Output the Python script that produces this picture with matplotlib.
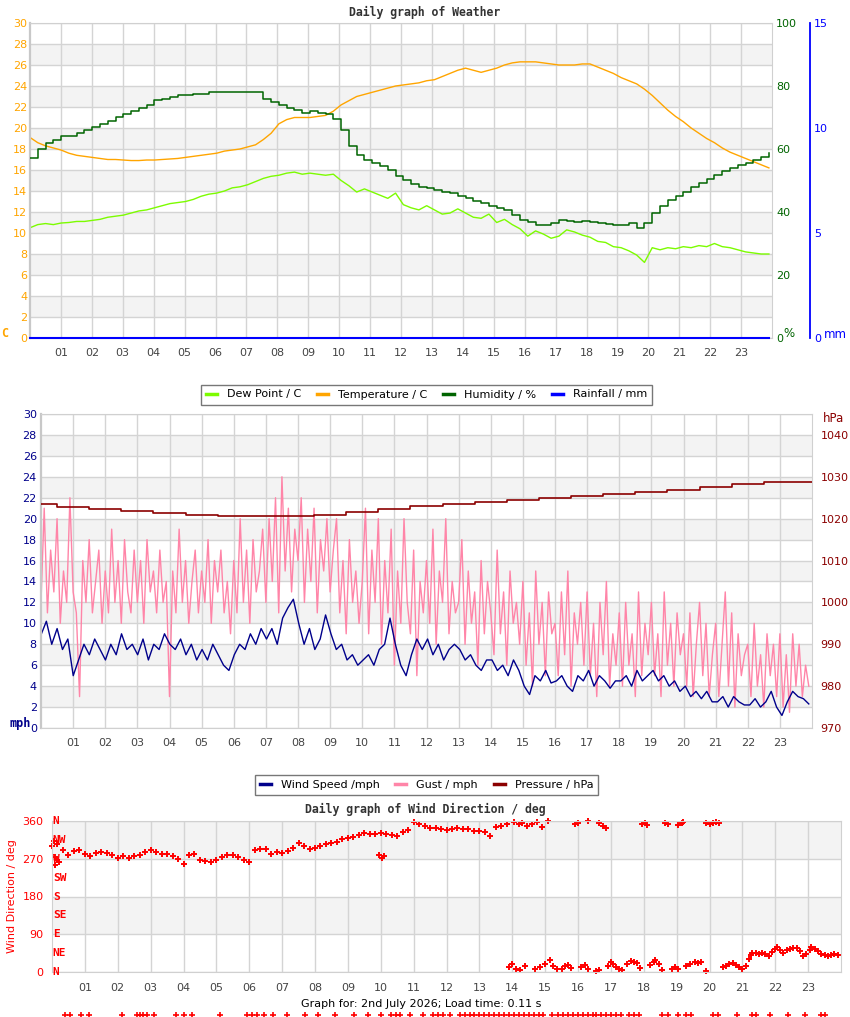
import numpy as np
import matplotlib
matplotlib.use("Agg")
import matplotlib.pyplot as plt
from matplotlib.lines import Line2D

# ---- chart 1: weather (4 samples per hour) ----
temperature = [19.1, 18.6, 18.3, 18.1, 17.9, 17.6, 17.4, 17.3, 17.2, 17.1, 17.0, 17.0,
               16.95, 16.9, 16.9, 16.95, 16.95, 17.0, 17.05, 17.1, 17.2, 17.3, 17.4, 17.5,
               17.6, 17.8, 17.9, 18.0, 18.2, 18.4, 18.9, 19.5, 20.4, 20.8, 21.0, 21.0,
               21.0, 21.1, 21.2, 21.6, 22.2, 22.6, 23.0, 23.2, 23.4, 23.6, 23.8, 24.0,
               24.1, 24.2, 24.3, 24.5, 24.6, 24.9, 25.2, 25.5, 25.7, 25.5, 25.3, 25.5,
               25.7, 26.0, 26.2, 26.3, 26.3, 26.3, 26.2, 26.1, 26.0, 26.0, 26.0, 26.1,
               26.1, 25.8, 25.5, 25.2, 24.8, 24.5, 24.2, 23.7, 23.1, 22.4, 21.7, 21.1,
               20.6, 20.0, 19.5, 19.0, 18.6, 18.1, 17.7, 17.4, 17.1, 16.8, 16.5, 16.2]
dew_point = [10.5, 10.8, 10.9, 10.8, 10.95, 11.0, 11.1, 11.1, 11.2, 11.3, 11.5, 11.6,
             11.7, 11.9, 12.1, 12.2, 12.4, 12.6, 12.8, 12.9, 13.0, 13.2, 13.5, 13.7,
             13.8, 14.0, 14.3, 14.4, 14.6, 14.9, 15.2, 15.4, 15.5, 15.7, 15.8, 15.6,
             15.7, 15.6, 15.5, 15.6, 15.0, 14.5, 13.9, 14.2, 13.9, 13.6, 13.3, 13.8,
             12.7, 12.4, 12.2, 12.6, 12.2, 11.8, 11.9, 12.3, 11.9, 11.5, 11.4, 11.8,
             11.0, 11.3, 10.8, 10.4, 9.7, 10.2, 9.9, 9.5, 9.7, 10.3, 10.1, 9.8,
             9.6, 9.2, 9.1, 8.7, 8.6, 8.3, 7.9, 7.2, 8.6, 8.4, 8.6, 8.5,
             8.7, 8.6, 8.8, 8.7, 9.0, 8.7, 8.6, 8.4, 8.2, 8.1, 8.0, 8.0]
humidity = [57, 60, 62, 63, 64, 64, 65, 66, 67, 68, 69, 70,
            71, 72, 73, 74, 75.5, 76, 76.5, 77, 77, 77.5, 77.5, 78,
            78, 78, 78, 78, 78, 78, 76, 75, 74, 73, 72.4, 71.5,
            72, 71.5, 71, 69.5, 66, 61, 58, 56.5, 55.5, 54.5, 53.3, 51.5,
            50, 49, 48, 47.5, 47, 46.5, 46, 45, 44.4, 43.5, 42.8, 42,
            41.3, 40.5, 39, 37.5, 36.8, 36, 35.9, 36.5, 37.5, 37, 36.8, 37,
            36.8, 36.5, 36.2, 36, 35.9, 36.5, 34.9, 36.5, 39.7, 42, 43.8, 45,
            46.3, 48, 49.2, 50.5, 51.7, 53, 54, 55, 55.6, 56.5, 57.5, 58.7]
rainfall = [0.0] * 96

# ---- chart 2: wind (gust 10/hour, speed 6/hour, pressure hourly) ----
gust = [12, 21, 11, 17, 13, 20, 10, 15, 12, 22,
        13, 11, 3, 16, 12, 18, 11, 14, 17, 10,
        15, 11, 19, 12, 16, 10, 18, 13, 11, 17,
        12, 16, 10, 18, 13, 15, 11, 17, 12, 14,
        3, 15, 11, 19, 12, 16, 10, 14, 17, 11,
        15, 12, 18, 10, 16, 13, 17, 11, 14, 9,
        16, 11, 20, 12, 17, 10, 18, 13, 15, 19,
        12, 20, 14, 22, 11, 24, 15, 21, 13, 19,
        16, 22, 12, 19, 14, 21, 11, 18, 15, 20,
        13, 17, 20, 11, 16, 9, 18, 12, 15, 10,
        14, 21, 9, 17, 12, 20, 8, 16, 11, 19,
        6, 15, 10, 20, 12, 9, 17, 5, 14, 11,
        16, 10, 19, 8, 15, 12, 20, 9, 14, 11,
        12, 18, 8, 15, 10, 13, 6, 16, 9, 14,
        11, 7, 17, 9, 13, 6, 15, 10, 12, 8,
        14, 6, 11, 4, 15, 8, 12, 5, 13, 9,
        10, 5, 13, 7, 15, 4, 11, 8, 12, 6,
        13, 5, 10, 3, 12, 7, 14, 4, 9, 6,
        11, 4, 12, 6, 9, 3, 13, 5, 10, 7,
        12, 5, 9, 3, 13, 6, 10, 4, 11, 7,
        9, 4, 11, 3, 8, 12, 5, 10, 3, 7,
        10, 3, 8, 13, 4, 11, 2, 9, 5, 7,
        8, 3, 10, 4, 7, 2, 9, 5, 8, 3,
        9, 2, 7, 1.5, 9, 4, 8, 3, 6, 4]
wind_speed = [8.9, 10.2, 8.0, 9.5, 7.5, 8.5, 5.0, 6.5, 8.0, 7.0, 8.5, 7.5,
              6.5, 8.0, 7.0, 9.0, 7.5, 8.0, 7.0, 8.5, 6.5, 8.0, 7.5, 9.0,
              8.0, 7.5, 8.5, 7.0, 8.0, 6.5, 7.5, 6.5, 8.0, 7.0, 6.0, 5.5,
              7.0, 8.0, 7.5, 9.0, 8.0, 9.5, 8.5, 9.5, 8.0, 10.5, 11.5, 12.3,
              10.0, 8.0, 9.5, 7.5, 8.5, 10.8, 9.0, 7.5, 8.0, 6.5, 7.0, 6.0,
              6.5, 7.0, 6.0, 7.5, 8.0, 10.5, 8.0, 6.0, 5.0, 7.0, 8.5, 7.5,
              8.5, 7.0, 8.0, 6.5, 7.5, 8.0, 7.5, 6.5, 7.0, 6.0, 5.5, 6.5,
              6.5, 5.5, 6.0, 5.0, 6.5, 5.5, 4.0, 3.2, 5.0, 4.5, 5.5, 4.3,
              4.5, 5.0, 4.0, 3.5, 5.0, 4.5, 5.5, 4.0, 5.0, 4.5, 3.8, 4.5,
              4.5, 5.0, 4.0, 5.5, 4.5, 5.0, 5.5, 4.5, 5.0, 4.0, 4.5, 3.5,
              4.0, 3.0, 3.5, 2.8, 3.5, 2.5, 2.5, 3.0, 2.0, 3.0, 2.5, 2.2,
              2.2, 2.8, 2.0, 2.5, 3.5, 2.0, 1.2, 2.5, 3.5, 3.0, 2.8, 2.3]
pressure = [1023.5, 1022.9, 1022.3, 1021.8, 1021.3, 1020.8, 1020.7, 1020.7, 1020.7,
            1020.9, 1021.6, 1022.3, 1023.0, 1023.5, 1024.0, 1024.5, 1025.0, 1025.3,
            1025.8, 1026.3, 1026.8, 1027.5, 1028.2, 1028.8, 1028.8]

# ---- chart 3: wind direction ----
# main trace 00:00-14:00, every 10 minutes
wd_trace = [300, 268, 292, 280, 288, 290, 282, 276, 283, 287, 283, 279,
            271, 277, 272, 276, 280, 287, 291, 285, 282, 281, 277, 270,
            258, 280, 282, 268, 265, 262, 266, 273, 278, 278, 275, 268,
            262, 290, 294, 293, 282, 287, 284, 288, 296, 307, 300, 294,
            296, 300, 305, 307, 311, 316, 320, 322, 327, 331, 328, 330,
            331, 328, 326, 324, 334, 338, 358, 352, 348, 344, 343, 341,
            339, 341, 343, 342, 340, 337, 336, 333, 324, 346, 349, 352]
wd_extra_time = [0.05, 0.08, 0.1, 0.15, 0.22, 9.95, 10.05, 10.1,
                 13.9, 14.0, 14.05, 14.1, 14.2, 14.25, 14.3, 14.4, 14.45, 14.6, 14.7,
                 14.75, 14.85, 14.9, 15.0, 15.1, 15.15, 15.25, 15.35, 15.5, 15.6, 15.7,
                 15.8, 15.9, 16.0, 16.1, 16.2, 16.3, 16.3, 16.55, 16.65, 16.65, 16.75,
                 16.85, 16.9, 17.0, 17.05, 17.15, 17.25, 17.35, 17.5, 17.6, 17.7, 17.8,
                 17.9, 17.95, 18.05, 18.1, 18.2, 18.3, 18.35, 18.45, 18.55, 18.65,
                 18.75, 18.85, 18.95, 19.05, 19.05, 19.15, 19.2, 19.3, 19.4, 19.55,
                 19.65, 19.75, 19.9, 19.9, 20.0, 20.1, 20.2, 20.3, 20.4, 20.5, 20.6,
                 20.7, 20.8, 20.9, 21.0, 21.1, 21.2, 21.25, 21.3, 21.4, 21.5, 21.6,
                 21.7, 21.8, 21.9, 22.0, 22.05, 22.15, 22.25, 22.35, 22.45, 22.55,
                 22.65, 22.75, 22.85, 22.95, 23.05, 23.1, 23.2, 23.3, 23.4, 23.5,
                 23.6, 23.7, 23.8, 23.9]
wd_extra_dir = [312, 275, 256, 306, 262, 279, 272, 276,
                12, 18, 358, 8, 352, 5, 356, 14, 348, 353, 6,
                357, 12, 345, 20, 359, 28, 15, 8, 6, 14, 17,
                9, 352, 356, 12, 17, 8, 360, 3, 5, 355, 348,
                343, 15, 24, 20, 12, 6, 4, 18, 27, 24, 22,
                9, 352, 356, 350, 16, 24, 28, 18, 5, 355,
                352, 6, 12, 8, 351, 355, 357, 15, 20, 24,
                22, 24, 3, 356, 352, 355, 357, 355, 12, 15, 18,
                21, 16, 12, 8, 14, 30, 40, 46, 45, 44, 46,
                42, 38, 48, 55, 60, 52, 46, 52, 55, 57,
                58, 50, 38, 44, 52, 60, 55, 50, 42, 40,
                38, 40, 42, 40]
calm_hours = [0.4, 0.55, 0.88, 1.13, 2.13, 2.59, 2.68, 2.77, 2.89, 3.1, 3.77, 4.02,
              4.26, 5.11, 5.93, 6.09, 6.24, 6.45, 6.73, 7.15, 7.7, 8.1, 8.6, 9.2,
              9.6, 10.0, 10.3, 10.45, 10.6, 10.9, 11.3, 11.6, 11.75, 11.9, 12.1,
              12.4, 12.55, 12.7, 12.85, 13.0, 13.15, 13.3, 13.45, 13.6, 13.75, 13.9,
              14.05, 14.2, 14.35, 14.5, 14.65, 14.8, 14.95, 15.2, 15.4, 15.55, 15.7,
              15.85, 16.0, 16.15, 16.3, 16.45, 16.55, 16.7, 16.85, 17.0, 17.15, 17.3,
              17.55, 17.7, 17.85, 18.55, 18.75, 19.05, 19.3, 19.45, 20.1, 20.25,
              20.85, 21.3, 21.4, 21.85, 22.4, 22.9, 23.4, 23.5]
compass = ["N", "NE", "E", "SE", "S", "SW", "W", "NW", "N"]
hour_labels = ["%02d" % h for h in range(1, 24)]

GRID = "#d4d4d4"
BAND = "#f3f3f3"
MONO = "DejaVu Sans Mono"

plt.rcParams["font.family"] = "DejaVu Sans"
plt.rcParams["font.size"] = 8

fig = plt.figure(figsize=(8.5, 10.17), dpi=100)


def base_axes(rect, ymax, step, band_step, left_color, pad_left):
    ax = fig.add_axes(rect)
    ax.set_xlim(0, 24)
    ax.set_ylim(0, ymax)
    for lo in np.arange(band_step, ymax, 2 * band_step):
        ax.axhspan(lo, lo + band_step, color=BAND, zorder=0, lw=0)
    ax.set_xticks(range(1, 24))
    ax.set_xticklabels(hour_labels)
    ax.set_yticks(np.arange(0, ymax + 0.1, step))
    ax.grid(True, color=GRID, lw=1)
    ax.set_axisbelow(True)
    ax.tick_params(axis="x", length=0, pad=7, labelcolor="#444444", labelsize=8)
    ax.tick_params(axis="y", length=0, pad=pad_left, labelcolor=left_color, labelsize=8)
    for s in ax.spines.values():
        s.set_color("#d0d0d0")
    ax.spines["left"].set_linewidth(1.6)
    ax.spines["left"].set_color("#c8c8c8")
    return ax


# ---------------- chart 1 ----------------
t4 = np.linspace(0, 23.9, 96)
ax1 = base_axes([30 / 850, 679 / 1017, 742 / 850, 315 / 1017], 30, 2, 2, "#FFA500", 2)
ax1.plot(t4, temperature, color="#FFA500", lw=1)
ax1.plot(t4, dew_point, color="#7CFC00", lw=1)

ax1h = ax1.twinx()
ax1h.set_ylim(0, 100)
ax1h.set_yticks(range(0, 101, 20))
ax1h.tick_params(axis="y", length=0, pad=3, labelcolor="#006400", labelsize=8)
for s in ax1h.spines.values():
    s.set_visible(False)
ax1h.plot(t4, humidity, color="#006400", lw=1.1, drawstyle="steps-post")

ax1r = ax1.twinx()
ax1r.set_ylim(0, 15)
ax1r.set_yticks([0, 5, 10, 15])
ax1r.spines["right"].set_position(("outward", 27.4))
for name, s in ax1r.spines.items():
    s.set_visible(name == "right")
ax1r.spines["right"].set_color("#0000FF")
ax1r.spines["right"].set_linewidth(1.3)
ax1r.tick_params(axis="y", length=0, pad=3, labelcolor="#0000FF", labelsize=8)
ax1r.plot(t4, rainfall, color="#0000FF", lw=1.5, clip_on=False)

fig.text(0.5, 1005 / 1017, "Daily graph of Weather", ha="center", va="center",
         family=MONO, weight="bold", size=8.3, color="#333333")
fig.text(5 / 850, 1 - 333 / 1017, "C", ha="center", va="center", family=MONO,
         weight="bold", size=8.5, color="#FFA500")
fig.text(789 / 850, 1 - 333 / 1017, "%", ha="center", va="center", size=8.5, color="#006400")
fig.text(835 / 850, 1 - 334 / 1017, "mm", ha="center", va="center", size=8.5, color="#0000FF")

# ---------------- chart 2 ----------------
ax2 = base_axes([41 / 850, 289 / 1017, 771 / 850, 314 / 1017], 30, 2, 2, "#00008B", 3)
tg = np.linspace(0, 23.9, len(gust))
tw = np.linspace(0, 23.9, len(wind_speed))
ax2.plot(tg, gust, color="#FF85A8", lw=1.0)
ax2.plot(tw, wind_speed, color="#00008B", lw=1)
ax2p = ax2.twinx()
ax2p.set_ylim(970, 1045)
ax2p.set_yticks(range(970, 1041, 10))
ax2p.tick_params(axis="y", length=0, pad=6, labelcolor="#8B0000", labelsize=8)
for s in ax2p.spines.values():
    s.set_visible(False)
ax2p.plot(np.linspace(0, 24, len(pressure)), pressure, color="#8B0000", lw=1.2,
          drawstyle="steps-mid")

fig.text(0.5, 1 - 401 / 1017, "Daily graph of Wind Speed", ha="center", va="baseline",
         family=MONO, weight="bold", size=8.3, color="#333333", zorder=2)
fig.text(833 / 850, 1 - 418 / 1017, "hPa", ha="center", va="center", size=8.5,
         color="#8B0000")
fig.text(20 / 850, 1 - 723 / 1017, "mph", ha="center", va="center", family=MONO,
         weight="bold", size=8.5, color="#00008B")

# ---------------- chart 3 ----------------
ax3 = fig.add_axes([52 / 850, 45 / 1017, 789 / 850, 151 / 1017])
ax3.set_xlim(0, 24)
ax3.set_ylim(0, 360)
ax3.axhspan(270, 360, color=BAND, zorder=0, lw=0)
ax3.axhspan(90, 180, color=BAND, zorder=0, lw=0)
ax3.set_xticks(range(1, 24))
ax3.set_xticklabels(hour_labels)
ax3.set_yticks([0, 90, 180, 270, 360])
ax3.grid(True, color=GRID, lw=1)
ax3.set_axisbelow(True)
ax3.tick_params(axis="x", length=0, pad=8, labelcolor="#444444", labelsize=8)
ax3.tick_params(axis="y", length=0, pad=6, labelcolor="#FF0000", labelsize=8)
for s in ax3.spines.values():
    s.set_color("#d0d0d0")
ax3.set_ylabel("Wind Direction / deg", color="#FF0000", size=8, labelpad=4)

t10 = np.arange(len(wd_trace)) / 6
ax3.plot(t10, wd_trace, "+", color="#FF0000", ms=5, mew=1.4, clip_on=False)
ax3.plot(wd_extra_time, wd_extra_dir, "+", color="#FF0000", ms=5, mew=1.4, clip_on=False)
ax3.plot(calm_hours, [-0.285] * len(calm_hours), "+", color="#FF0000", ms=4, mew=1.2,
         transform=ax3.get_xaxis_transform(), clip_on=False)
for i, name in enumerate(compass):
    ax3.text(0.001, i * 45, name, transform=ax3.get_yaxis_transform(), ha="left",
             va="center", family=MONO, weight="bold", size=8, color="#FF0000")

fig.text(0.5, 1 - 809 / 1017, "Daily graph of Wind Direction / deg", ha="center",
         va="center", family=MONO, weight="bold", size=8.3, color="#333333")
fig.text(421 / 850, 1 - 1004 / 1017, "Graph for: 2nd July 2026; Load time: 0.11 s",
         ha="center", va="center", size=8, color="#000000")

# ---------------- legends ----------------
def legend(entries, y):
    handles = [Line2D([], [], color=c, lw=2.5) for c, _ in entries]
    labels = [l for _, l in entries]
    lg = fig.legend(handles, labels, loc="center", bbox_to_anchor=(426.5 / 850, y),
                    ncol=len(entries), frameon=True, fancybox=False, fontsize=8,
                    handlelength=1.0, handletextpad=0.9, columnspacing=1.4,
                    borderpad=0.45, framealpha=1)
    lg.get_frame().set_edgecolor("#777777")
    lg.get_frame().set_linewidth(1)
    lg.set_zorder(5)
    return lg


legend([("#7CFC00", "Dew Point / C"), ("#FFA500", "Temperature / C"),
        ("#006400", "Humidity / %"), ("#0000FF", "Rainfall / mm")], 1 - 394.5 / 1017)
legend([("#00008B", "Wind Speed /mph"), ("#FF85A8", "Gust / mph"),
        ("#8B0000", "Pressure / hPa")], 1 - 785 / 1017)

fig.savefig("out.png", dpi=100)
